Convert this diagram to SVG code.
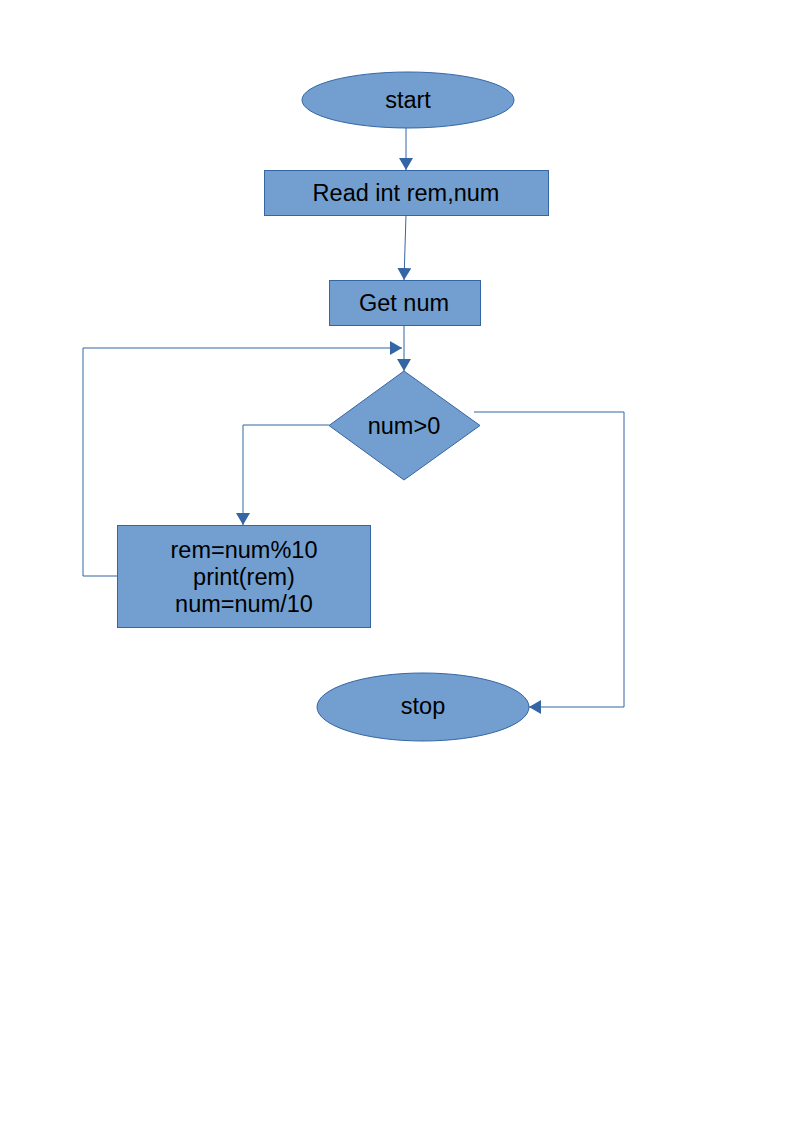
<svg xmlns="http://www.w3.org/2000/svg" width="794" height="1123" viewBox="0 0 794 1123">
<style>
.n{fill:#729fcf;stroke:#3465a4;stroke-width:1}
.t{font-family:"Liberation Sans",Arial,sans-serif;font-size:23.5px;fill:#000;text-anchor:middle}
.c{fill:none;stroke:#3465a4;stroke-width:1}
</style>
<defs>
<marker id="b" viewBox="0 0 12 14" refX="12" refY="7" markerWidth="12" markerHeight="14" markerUnits="userSpaceOnUse" orient="auto">
<path d="M0,0 L12,7 L0,14 z" fill="#3465a4"/>
</marker>
</defs>
<rect width="794" height="1123" fill="#fff"/>
<g id="connectors">
<path class="c" d="M406,128 L406,170" marker-end="url(#b)"/>
<path class="c" d="M406,215 L404,280" marker-end="url(#b)"/>
<path class="c" d="M404,325 L404,371" marker-end="url(#b)"/>
<path class="c" d="M117,576 L83,576 L83,348 L402,348" marker-end="url(#b)"/>
<path class="c" d="M329,425 L243,425 L243,525" marker-end="url(#b)"/>
<path class="c" d="M474,412 L624,412 L624,707 L529,707" marker-end="url(#b)"/>
</g>
<g id="start">
<ellipse class="n" cx="408" cy="100" rx="106" ry="28"/>
<text class="t" x="408" y="108">start</text>
</g>
<g id="read">
<rect class="n" x="264.5" y="170.5" width="284" height="45"/>
<text class="t" x="406" y="201">Read int rem,num</text>
</g>
<g id="getnum">
<rect class="n" x="329.5" y="280.5" width="151" height="45"/>
<text class="t" x="404" y="311">Get num</text>
</g>
<g id="cond">
<polygon class="n" points="404,371 480,425.5 404,480 329,425.5"/>
<text class="t" x="404" y="434">num&gt;0</text>
</g>
<g id="body">
<rect class="n" x="117.5" y="525.5" width="253" height="102"/>
<text class="t" x="244" y="558">rem=num%10</text>
<text class="t" x="244" y="585">print(rem)</text>
<text class="t" x="244" y="612">num=num/10</text>
</g>
<g id="stop">
<ellipse class="n" cx="423" cy="707" rx="106" ry="34"/>
<text class="t" x="423" y="714">stop</text>
</g>
</svg>
